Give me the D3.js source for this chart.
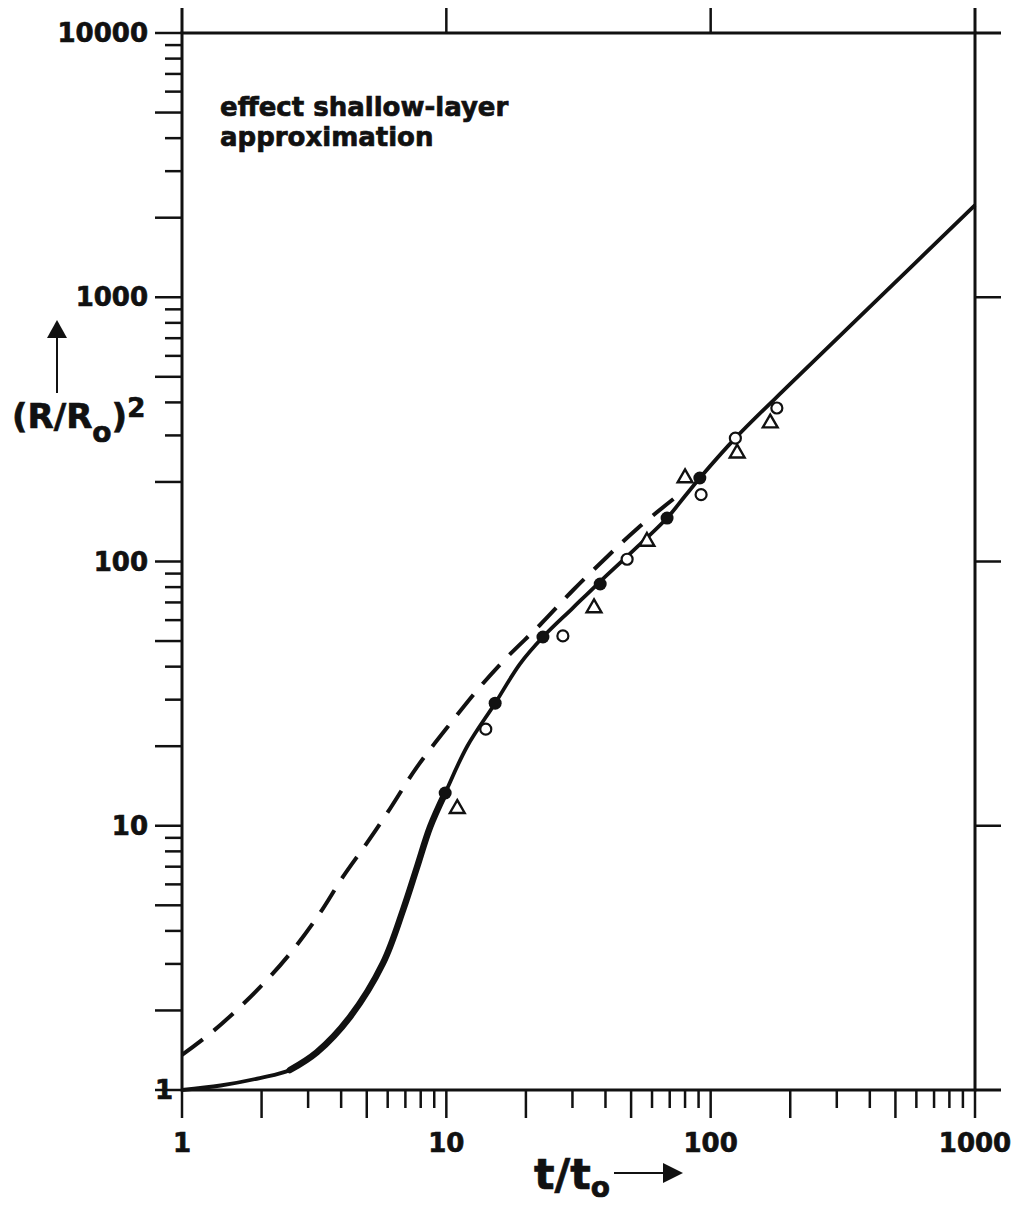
<!DOCTYPE html>
<html>
<head>
<meta charset="utf-8">
<script src="https://cdn.jsdelivr.net/npm/d3@7"></script>
<style>
  html, body { margin: 0; padding: 0; background: #fff; }
  svg text { font-family: "DejaVu Sans", sans-serif; font-weight: bold; fill: #111; stroke: #111; stroke-width: 0.7px; }
</style>
</head>
<body>
<div id="chart"></div>
<script>
// tick labels
const xTicks = [1, 10, 100, 1000];
const yTicks = [1, 10, 100, 1000, 10000];

// solid curve (full model)
const solidX = [1, 1.4, 1.97, 2.56, 3.24, 4.32, 5.76, 6.86, 7.75, 8.68, 9.9, 12, 15.3, 19, 23.2, 30, 38.2, 50, 68.4, 80, 91, 124, 200, 400, 1000];
const solidY = [1, 1.04, 1.11, 1.19, 1.39, 1.89, 3.02, 4.8, 6.98, 9.89, 13.3, 20, 29.1, 41, 51.8, 66.5, 84, 108, 146, 177, 207, 293, 470, 920, 2230];

// dashed curve (shallow-layer approximation)
const dashX = [1, 1.3, 1.657, 2.097, 2.63, 3.33, 4.06, 5.01, 6.02, 7.75, 10.6, 13.4, 17.0, 22.6, 30.2, 40.5, 53.1, 78];
const dashY = [1.357, 1.658, 2.06, 2.61, 3.39, 4.68, 6.4, 8.61, 11.3, 16.7, 25.1, 33.5, 43.5, 57.5, 78, 104, 134, 183];

// measured points
const filledX = [9.9, 15.3, 23.2, 38.2, 68.4, 91];
const filledY = [13.3, 29.1, 51.8, 82.2, 146, 207];
const openX = [14.1, 27.6, 48.3, 92, 124, 178];
const openY = [23.2, 52.3, 102, 179, 293, 381];
const triX = [11.0, 36.2, 57.4, 80, 126, 168];
const triY = [11.6, 66.7, 119, 207, 257, 334];

const W = 1016, H = 1205;
const plotLeft = 182, plotRight = 975, plotTop = 33, plotBottom = 1090;
const ink = '#111';

const svg = d3.select('#chart').append('svg')
    .attr('width', W)
    .attr('height', H);

const x = d3.scaleLog().domain([1, 1000]).range([plotLeft, plotRight]);
const y = d3.scaleLog().domain([1, 10000]).range([plotBottom, plotTop]);

// frame
svg.append('rect')
    .attr('x', plotLeft).attr('y', plotTop)
    .attr('width', plotRight - plotLeft).attr('height', plotBottom - plotTop)
    .attr('fill', 'none').attr('stroke', ink).attr('stroke-width', 3);

const minor = (max) => {
    const out = [];
    for (let d = 1; d < max; d *= 10) {
        for (let k = 1; k <= 9; k++) out.push({ v: d * k, k });
    }
    out.push({ v: max, k: 1 });
    return out;
};
const longTick = k => k === 1 || k === 2 || k === 5;

// left ticks
svg.append('g').selectAll('line')
    .data(minor(10000))
    .enter().append('line')
    .attr('x1', plotLeft)
    .attr('x2', d => plotLeft - (longTick(d.k) ? 27 : 17))
    .attr('y1', d => y(d.v)).attr('y2', d => y(d.v))
    .attr('stroke', ink).attr('stroke-width', 2.5);

// bottom ticks
svg.append('g').selectAll('line')
    .data(minor(1000))
    .enter().append('line')
    .attr('x1', d => x(d.v)).attr('x2', d => x(d.v))
    .attr('y1', plotBottom)
    .attr('y2', d => plotBottom + (longTick(d.k) ? 28 : 18))
    .attr('stroke', ink).attr('stroke-width', 2.5);

// right ticks (majors)
svg.append('g').selectAll('line')
    .data(yTicks)
    .enter().append('line')
    .attr('x1', plotRight).attr('x2', plotRight + 26)
    .attr('y1', d => y(d)).attr('y2', d => y(d))
    .attr('stroke', ink).attr('stroke-width', d => (d === 1 || d === 10000) ? 3 : 2.5);

// top ticks (majors)
svg.append('g').selectAll('line')
    .data(xTicks)
    .enter().append('line')
    .attr('x1', d => x(d)).attr('x2', d => x(d))
    .attr('y1', plotTop).attr('y2', plotTop - 25)
    .attr('stroke', ink).attr('stroke-width', d => (d === 1 || d === 1000) ? 3 : 2.5);

// tick labels
svg.append('g').selectAll('text')
    .data(yTicks)
    .enter().append('text')
    .attr('x', d => d === 1 ? 173 : 148)
    .attr('y', d => y(d) + 9)
    .attr('text-anchor', 'end')
    .attr('font-size', 26)
    .text(d => d);

svg.append('g').selectAll('text')
    .data(xTicks)
    .enter().append('text')
    .attr('x', d => x(d))
    .attr('y', 1152)
    .attr('text-anchor', 'middle')
    .attr('font-size', 26)
    .text(d => d);

// axis titles
const yTitle = svg.append('text').attr('x', 12).attr('y', 428).attr('font-size', 34);
yTitle.append('tspan').text('(R/R');
yTitle.append('tspan').attr('font-size', 28).attr('dy', 14).text('o');
yTitle.append('tspan').attr('dy', -14).text(')');
yTitle.append('tspan').attr('font-size', 26).attr('dy', -11).text('2');

svg.append('line').attr('x1', 57).attr('x2', 57).attr('y1', 393).attr('y2', 336)
    .attr('stroke', ink).attr('stroke-width', 2);
svg.append('path').attr('d', 'M47,338 L57,320 L67,338 Z').attr('fill', ink);

const xTitle = svg.append('text').attr('x', 534).attr('y', 1189).attr('font-size', 43);
xTitle.append('tspan').text('t/t');
xTitle.append('tspan').attr('font-size', 28).attr('dy', 8).text('o');

svg.append('line').attr('x1', 614).attr('x2', 666).attr('y1', 1173).attr('y2', 1173)
    .attr('stroke', ink).attr('stroke-width', 2);
svg.append('path').attr('d', 'M663,1163 L683,1173 L663,1183 Z').attr('fill', ink);

// annotation
svg.append('text').attr('x', 220).attr('y', 116).attr('font-size', 26).text('effect shallow-layer');
svg.append('text').attr('x', 220).attr('y', 146).attr('font-size', 26).text('approximation');

// curves
const line = d3.line()
    .x(d => x(d[0]))
    .y(d => y(d[1]))
    .curve(d3.curveCatmullRom.alpha(0.5));

const solid = solidX.map((v, i) => [v, solidY[i]]);
const dashed = dashX.map((v, i) => [v, dashY[i]]);

svg.append('path')
    .attr('d', line(dashed))
    .attr('fill', 'none').attr('stroke', ink)
    .attr('stroke-width', 4)
    .attr('stroke-dasharray', '26,14');

svg.append('path')
    .attr('d', line(solid))
    .attr('fill', 'none').attr('stroke', ink)
    .attr('stroke-width', 3.8)
    .attr('stroke-linejoin', 'round');

svg.append('path')
    .attr('d', line(solid.filter(d => d[0] >= 2.56 && d[0] <= 9.9)))
    .attr('fill', 'none').attr('stroke', ink)
    .attr('stroke-width', 6.5)
    .attr('stroke-linecap', 'round');

// markers
svg.append('g').selectAll('circle')
    .data(filledX.map((v, i) => [v, filledY[i]]))
    .enter().append('circle')
    .attr('cx', d => x(d[0])).attr('cy', d => y(d[1]))
    .attr('r', 6.5).attr('fill', ink);

svg.append('g').selectAll('circle')
    .data(openX.map((v, i) => [v, openY[i]]))
    .enter().append('circle')
    .attr('cx', d => x(d[0])).attr('cy', d => y(d[1]))
    .attr('r', 5.5).attr('fill', '#fff')
    .attr('stroke', ink).attr('stroke-width', 2.2);

const tri = d3.symbol().type(d3.symbolTriangle).size(95);
svg.append('g').selectAll('path')
    .data(triX.map((v, i) => [v, triY[i]]))
    .enter().append('path')
    .attr('d', tri)
    .attr('transform', d => `translate(${x(d[0])},${y(d[1])})`)
    .attr('fill', '#fff')
    .attr('stroke', ink).attr('stroke-width', 2.4)
    .attr('stroke-linejoin', 'miter');
</script>
</body>
</html>
